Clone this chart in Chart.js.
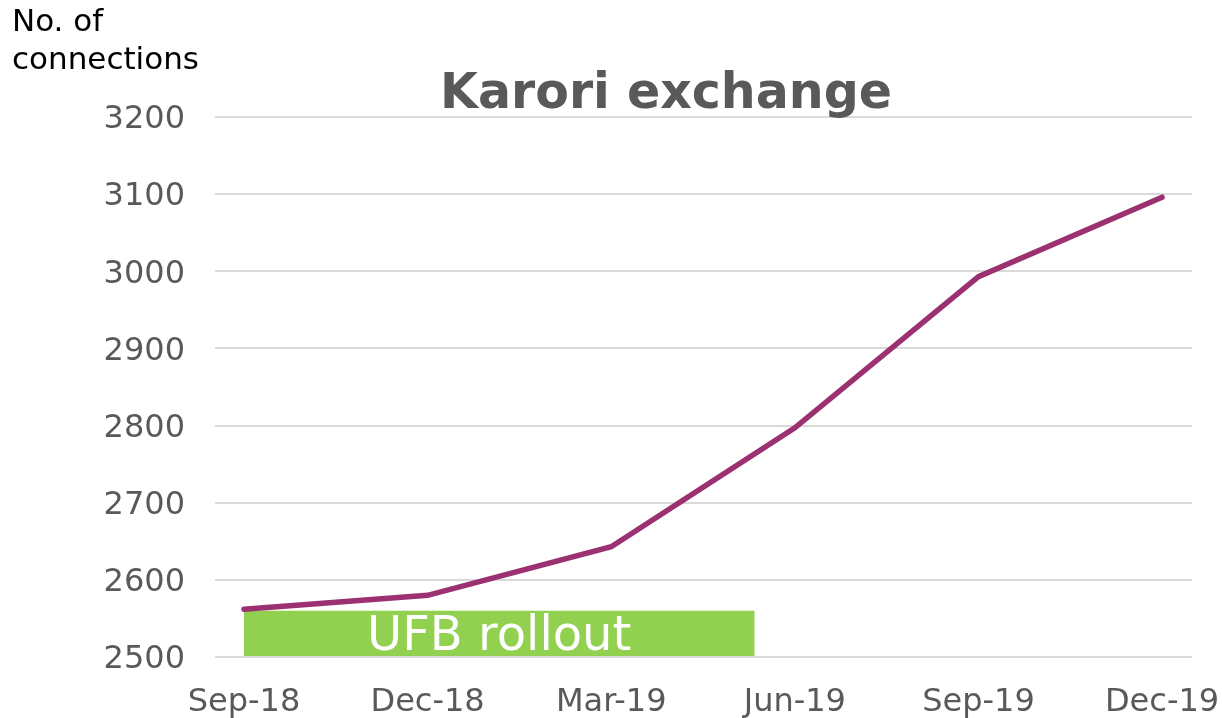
<!DOCTYPE html>
<html>
<head>
<meta charset="utf-8">
<script src="https://cdn.jsdelivr.net/npm/chart.js@4"></script>
<style>
  html, body { margin: 0; padding: 0; background: #fff; }
  #wrap { width: 1223px; height: 718px; }
</style>
</head>
<body>
<div id="wrap"><canvas id="lineChart"></canvas></div>
<script>
const quarters = ["Sep-18", "Dec-18", "Mar-19", "Jun-19", "Sep-19", "Dec-19"];
const connections = [2562, 2580, 2643, 2797, 2993, 3096];
const yTicks = [2500, 2600, 2700, 2800, 2900, 3000, 3100, 3200];
// UFB rollout band: from first quarter to ~3/4 through Mar-19..Jun-19, up to 2560
const rolloutStart = 0;
const rolloutEnd = 2.78;
const rolloutTop = 2560;

const FONT = "'DejaVu Sans', Verdana, sans-serif";

const overlay = {
  id: "overlay",
  beforeDatasetsDraw(chart) {
    const { ctx, scales: { x, y } } = chart;
    const x0 = x.getPixelForValue(rolloutStart);
    const x1 = x.getPixelForValue(rolloutEnd);
    const y0 = y.getPixelForValue(rolloutTop);
    const y1 = y.getPixelForValue(yTicks[0]);
    ctx.save();
    ctx.fillStyle = "#92d050";
    ctx.fillRect(x0, y0, x1 - x0, y1 - y0 - 1);
    ctx.fillStyle = "#ffffff";
    ctx.font = "48px " + FONT;
    ctx.textAlign = "center";
    ctx.textBaseline = "middle";
    ctx.fillText("UFB rollout", (x0 + x1) / 2, (y0 + y1) / 2 + 4);
    ctx.restore();
  },
  afterDraw(chart) {
    const ctx = chart.ctx;
    ctx.save();
    ctx.fillStyle = "#595959";
    ctx.font = "bold 49px " + FONT;
    ctx.textAlign = "center";
    ctx.textBaseline = "middle";
    ctx.fillText("Karori exchange", 666, 95);
    ctx.fillStyle = "#000000";
    ctx.font = "31px " + FONT;
    ctx.textAlign = "left";
    ctx.textBaseline = "middle";
    ctx.fillText("No. of", 12, 23);
    ctx.fillText("connections", 12, 61);
    ctx.restore();
  }
};

const ctx = document.getElementById("lineChart");

new Chart(ctx, {
  type: "line",
  data: {
    datasets: [
      {
        label: "Connections",
        data: connections.map((v, i) => ({ x: i, y: v })),
        borderColor: "#9b3170",
        backgroundColor: "#9b3170",
        borderWidth: 5.5,
        pointRadius: 0,
        tension: 0,
        borderCapStyle: "round",
      },
    ],
  },
  options: {
    responsive: true,
    maintainAspectRatio: false,
    animation: false,
    layout: { padding: { left: 0, top: 117, right: 31, bottom: 0 } },
    plugins: {
      legend: { display: false },
      tooltip: { enabled: false },
    },
    scales: {
      x: {
        type: "linear",
        min: -0.158,
        max: 5.163,
        afterFit(scale) {
          scale.height = 61;
          scale.paddingLeft = 0;
          scale.paddingRight = 0;
        },
        afterBuildTicks(scale) {
          scale.ticks = quarters.map((q, i) => ({ value: i }));
        },
        grid: { display: false },
        border: { display: false },
        ticks: {
          callback: (v) => quarters[v] ?? "",
          color: "#595959",
          font: { family: FONT, size: 32 },
          padding: 18,
          maxRotation: 0,
        },
      },
      y: {
        min: 2500,
        max: 3200,
        afterFit(scale) { scale.width = 215; },
        afterBuildTicks(scale) {
          scale.ticks = yTicks.map((v) => ({ value: v }));
        },
        grid: { color: "#d9d9d9", lineWidth: 2, drawTicks: false },
        border: { display: false },
        ticks: {
          callback: (v) => String(v),
          color: "#595959",
          font: { family: FONT, size: 32 },
          padding: 30,
          labelOffset: 3,
        },
      },
    },
  },
  plugins: [overlay],
});
</script>
</body>
</html>
